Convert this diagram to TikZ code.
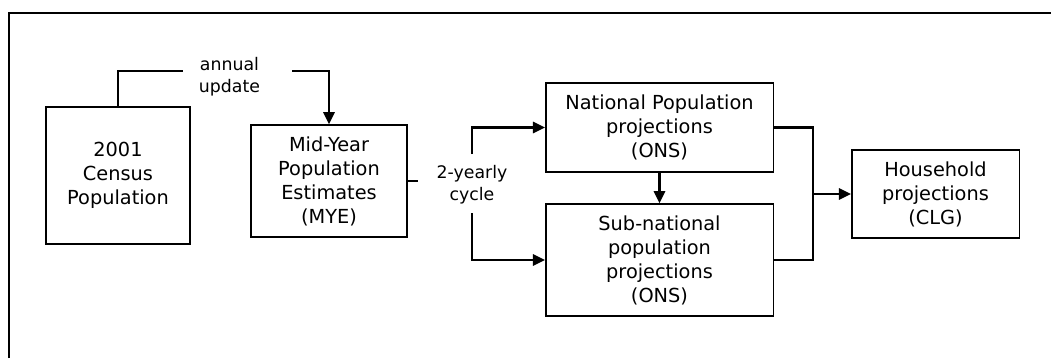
\documentclass[tikz,border=0pt]{standalone}
\usepackage{fontspec}
\setmainfont{DejaVu Sans}
\usetikzlibrary{positioning,arrows.meta}

\begin{document}
\begin{tikzpicture}[
  x=0.75pt, y=-0.75pt,
  box/.style={shape=rectangle, draw, line width=1.2pt, align=center, inner sep=0pt, font=\fontsize{14.5}{18}\selectfont},
  note/.style={align=center, inner sep=0pt, font=\fontsize{13}{16.5}\selectfont},
  link/.style={line width=1.6pt},
  arr/.style={link, -{Triangle[length=9pt,width=8.5pt]}}
]
  \useasboundingbox (0,0) rectangle (1051,358);
  % Frame
  \draw[line width=1.5pt] (9,358) -- (9,13) -- (1051,13);

  % Boxes
  \node[box, minimum width=108pt, minimum height=102.75pt] (census) at (118,175.5) {2001\\Census\\Population};
  \node[box, minimum width=117pt, minimum height=84pt] (mye) at (329,181) {Mid-Year\\Population\\Estimates\\(MYE)};
  \node[box, minimum width=170.7pt, minimum height=66.75pt] (natl) at (659.5,127.5) {National Population\\projections\\(ONS)};
  \node[box, minimum width=170.7pt, minimum height=84pt] (subnatl) at (659.5,260) {Sub-national\\population\\projections\\(ONS)};
  \node[box, minimum width=125.7pt, minimum height=66pt] (house) at (935.5,194) {Household\\projections\\(CLG)};

  % Labels
  \node[note] (annual) at (229.5,77) {annual\\update};
  \node[note] (cycle) at (472,185) {2-yearly\\cycle};

  % Loose ends
  \coordinate (annualL) at (183,71);
  \coordinate (annualR) at (292,71);
  \coordinate (cycleL) at (418,181);
  \coordinate (cycleT) at (472,154);
  \coordinate (cycleB) at (472,213);
  \coordinate (join) at (812.7,194);

  % Connectors
  \draw[link] (census.north) |- (annualL);
  \draw[arr] (annualR) -| (mye.north);
  \draw[link] (mye.east) -- (cycleL);
  \draw[arr] (cycleT) |- (natl.west);
  \draw[arr] (cycleB) |- (subnatl.west);
  \draw[arr] (natl.south) -- (subnatl.north);
  \draw[link] (natl.east) -| (join) |- (subnatl.east);
  \draw[arr] (join) -- (house.west);
\end{tikzpicture}
\end{document}
